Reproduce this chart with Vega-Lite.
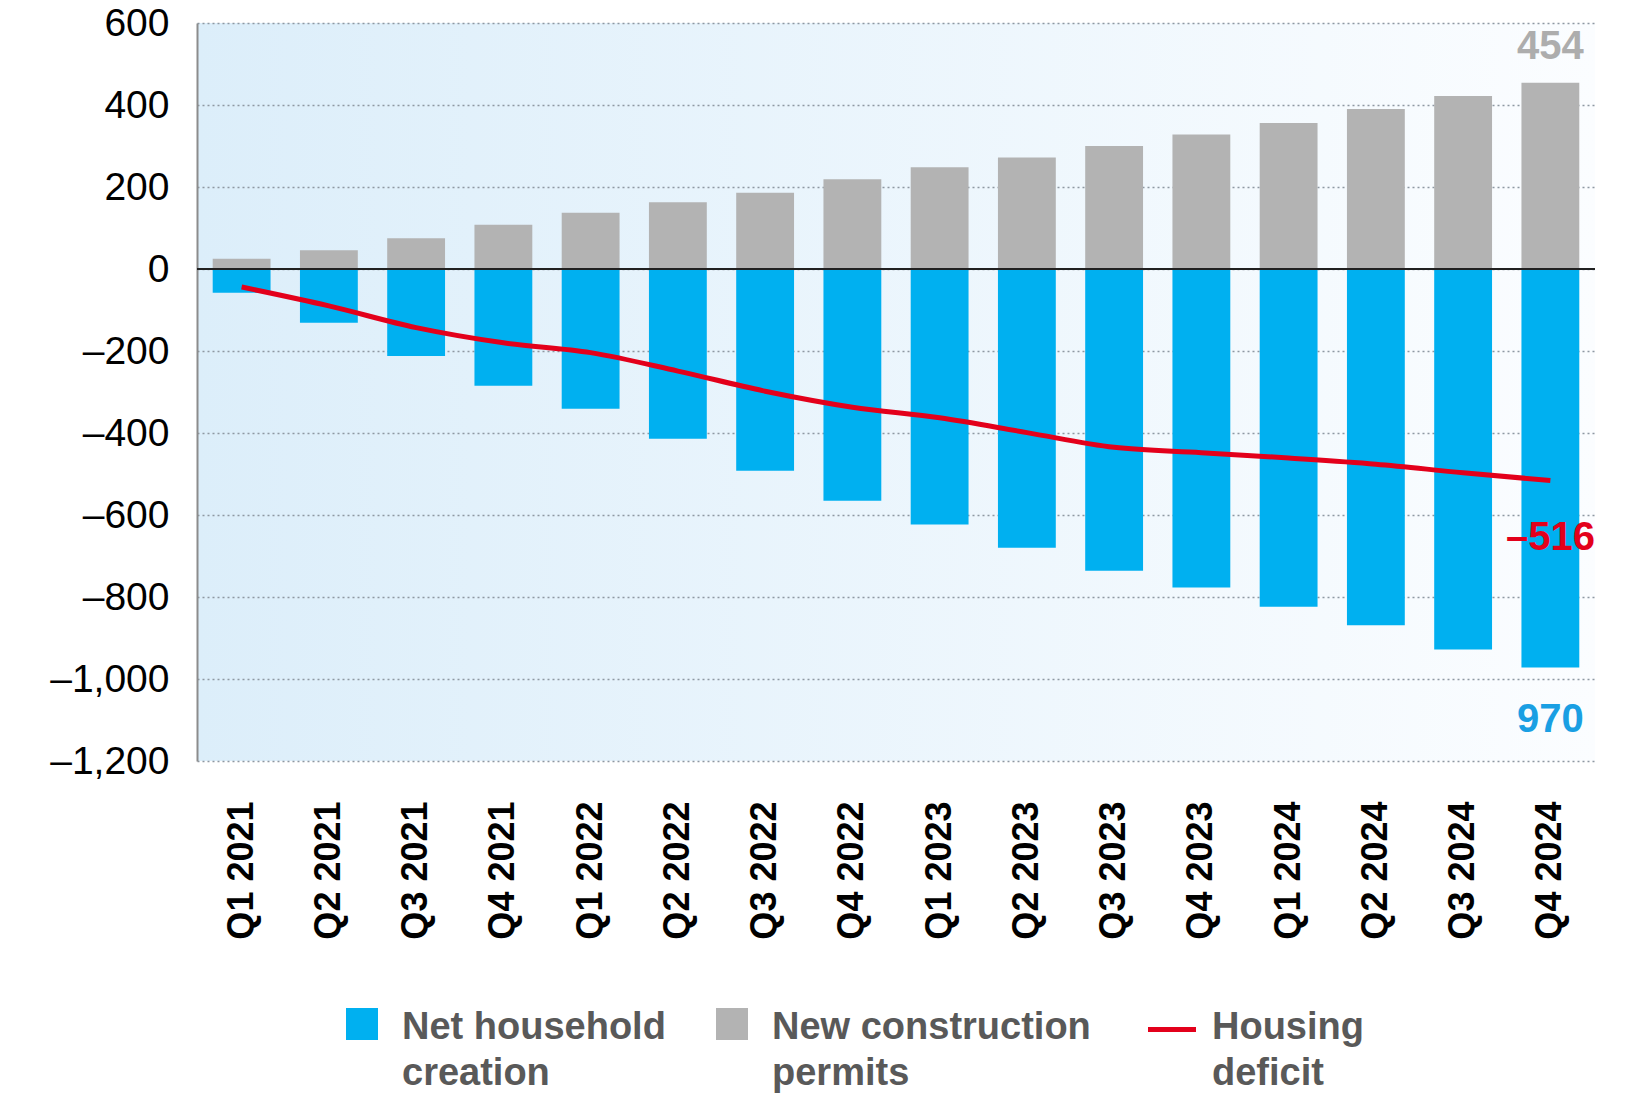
{
  "$schema": "https://vega.github.io/schema/vega-lite/v6.json",
  "width": 1398,
  "height": 738,
  "autosize": {"type": "none"},
  "padding": {"left": 197, "top": 23, "right": 55, "bottom": 339},
  "background": "white",
  "config": {
    "font": "Liberation Sans",
    "view": {
      "stroke": null,
      "fill": {"gradient": "linear", "x1": 0, "y1": 0, "x2": 1, "y2": 0,
        "stops": [{"offset": 0, "color": "#dceefa"}, {"offset": 1, "color": "#fbfdff"}]}
    }
  },
  "data": {
    "values": [
      {"q": "Q1 2021", "series": "Net household creation", "value": -58},
      {"q": "Q2 2021", "series": "Net household creation", "value": -131},
      {"q": "Q3 2021", "series": "Net household creation", "value": -212},
      {"q": "Q4 2021", "series": "Net household creation", "value": -285},
      {"q": "Q1 2022", "series": "Net household creation", "value": -341},
      {"q": "Q2 2022", "series": "Net household creation", "value": -414},
      {"q": "Q3 2022", "series": "Net household creation", "value": -492},
      {"q": "Q4 2022", "series": "Net household creation", "value": -565},
      {"q": "Q1 2023", "series": "Net household creation", "value": -623},
      {"q": "Q2 2023", "series": "Net household creation", "value": -680},
      {"q": "Q3 2023", "series": "Net household creation", "value": -736},
      {"q": "Q4 2023", "series": "Net household creation", "value": -777},
      {"q": "Q1 2024", "series": "Net household creation", "value": -824},
      {"q": "Q2 2024", "series": "Net household creation", "value": -869},
      {"q": "Q3 2024", "series": "Net household creation", "value": -928},
      {"q": "Q4 2024", "series": "Net household creation", "value": -972, "label": "970"},
      {"q": "Q1 2021", "series": "New construction permits", "value": 25},
      {"q": "Q2 2021", "series": "New construction permits", "value": 46},
      {"q": "Q3 2021", "series": "New construction permits", "value": 75},
      {"q": "Q4 2021", "series": "New construction permits", "value": 108},
      {"q": "Q1 2022", "series": "New construction permits", "value": 137},
      {"q": "Q2 2022", "series": "New construction permits", "value": 163},
      {"q": "Q3 2022", "series": "New construction permits", "value": 186},
      {"q": "Q4 2022", "series": "New construction permits", "value": 219},
      {"q": "Q1 2023", "series": "New construction permits", "value": 248},
      {"q": "Q2 2023", "series": "New construction permits", "value": 272},
      {"q": "Q3 2023", "series": "New construction permits", "value": 300},
      {"q": "Q4 2023", "series": "New construction permits", "value": 328},
      {"q": "Q1 2024", "series": "New construction permits", "value": 356},
      {"q": "Q2 2024", "series": "New construction permits", "value": 390},
      {"q": "Q3 2024", "series": "New construction permits", "value": 422},
      {"q": "Q4 2024", "series": "New construction permits", "value": 454, "label": "454"},
      {"q": "Q1 2021", "series": "Housing deficit", "value": -44},
      {"q": "Q2 2021", "series": "Housing deficit", "value": -90},
      {"q": "Q3 2021", "series": "Housing deficit", "value": -143},
      {"q": "Q4 2021", "series": "Housing deficit", "value": -180},
      {"q": "Q1 2022", "series": "Housing deficit", "value": -204},
      {"q": "Q2 2022", "series": "Housing deficit", "value": -249},
      {"q": "Q3 2022", "series": "Housing deficit", "value": -298},
      {"q": "Q4 2022", "series": "Housing deficit", "value": -337},
      {"q": "Q1 2023", "series": "Housing deficit", "value": -363},
      {"q": "Q2 2023", "series": "Housing deficit", "value": -399},
      {"q": "Q3 2023", "series": "Housing deficit", "value": -435},
      {"q": "Q4 2023", "series": "Housing deficit", "value": -448},
      {"q": "Q1 2024", "series": "Housing deficit", "value": -461},
      {"q": "Q2 2024", "series": "Housing deficit", "value": -476},
      {"q": "Q3 2024", "series": "Housing deficit", "value": -497},
      {"q": "Q4 2024", "series": "Housing deficit", "value": -516, "label": "–516"}
    ]
  },
  "encoding": {
    "x": {
      "field": "q", "type": "ordinal", "sort": null,
      "scale": {"paddingInner": 0.337, "paddingOuter": 0.18},
      "axis": {
        "title": null, "domain": false, "ticks": false, "grid": false,
        "labelAngle": -90, "labelFontSize": 36, "labelFontWeight": "bold",
        "labelColor": "#000000", "labelPadding": 40, "labelFont": "Liberation Sans"
      }
    },
    "y": {
      "field": "value", "type": "quantitative",
      "scale": {"domain": [-1200, 600], "nice": false, "zero": false},
      "axis": {
        "title": null,
        "values": [-1200, -1000, -800, -600, -400, -200, 0, 200, 400, 600],
        "labelExpr": "replace(replace(format(datum.value, ','), '-', '–'), '−', '–')",
        "labelFontSize": 39, "labelColor": "#000000", "labelPadding": 28, "labelFont": "Liberation Sans",
        "ticks": false,
        "domain": true, "domainColor": "#8c8c8c", "domainWidth": 2,
        "grid": true, "gridColor": "#8e98a2", "gridDash": [2, 3], "gridWidth": 1.5
      }
    }
  },
  "layer": [
    {
      "transform": [{"filter": "datum.series !== 'Housing deficit'"}],
      "mark": {"type": "bar"},
      "encoding": {
        "y": {"field": "value", "type": "quantitative", "stack": null},
        "color": {
          "field": "series", "type": "nominal",
          "scale": {
            "domain": ["Net household creation", "New construction permits", "Housing deficit"],
            "range": ["#00b0f0", "#b3b3b3", "#e3001b"]
          },
          "legend": {
            "title": null,
            "orient": "none",
            "legendX": 146,
            "legendY": 982,
            "direction": "horizontal",
            "columns": 3,
            "padding": 0,
            "symbolSize": 1024,
            "symbolType": "square",
            "symbolOffset": 0,
            "labelFont": "Liberation Sans",
            "labelFontSize": 38,
            "labelFontWeight": "bold",
            "labelColor": "#595959",
            "labelOffset": 21,
            "labelLimit": 600,
            "labelBaseline": "top",
            "columnPadding": 47,
            "labelExpr": "datum.label === 'Net household creation' ? ['Net household', 'creation'] : datum.label === 'New construction permits' ? ['New construction', 'permits'] : ['Housing', 'deficit']",
            "encode": {
              "symbols": {
                "update": {
                  "shape": {"signal": "datum.value === 'Housing deficit' ? 'M-1.5,0.35H1.5' : 'square'"},
                  "fill": {"signal": "datum.value === 'Housing deficit' ? 'transparent' : scale('color', datum.value)"},
                  "stroke": {"signal": "scale('color', datum.value)"},
                  "strokeWidth": {"signal": "datum.value === 'Housing deficit' ? 5 : 0"},
                  "opacity": {"value": 1}
                }
              },
              "labels": {
                "update": {
                  "dy": {"value": -15},
                  "lineHeight": {"value": 46}
                }
              }
            }
          }
        }
      }
    },
    {
      "mark": {"type": "rule", "color": "#222222", "strokeWidth": 1.5},
      "encoding": {"y": {"datum": 0}, "x": null}
    },
    {
      "transform": [{"filter": "datum.series === 'Housing deficit'"}],
      "mark": {"type": "line", "strokeWidth": 5, "interpolate": "monotone"},
      "encoding": {
        "color": {
          "field": "series", "type": "nominal",
          "scale": {
            "domain": ["Net household creation", "New construction permits", "Housing deficit"],
            "range": ["#00b0f0", "#b3b3b3", "#e3001b"]
          }
        }
      }
    },
    {
      "transform": [{"filter": "datum.series === 'New construction permits' && datum.q === 'Q4 2024'"}],
      "mark": {"type": "text", "font": "Liberation Sans", "fontSize": 40, "fontWeight": "bold", "color": "#adadad", "dy": -36, "baseline": "middle"},
      "encoding": {"text": {"field": "label"}}
    },
    {
      "transform": [{"filter": "datum.series === 'Net household creation' && datum.q === 'Q4 2024'"}],
      "mark": {"type": "text", "font": "Liberation Sans", "fontSize": 40, "fontWeight": "bold", "color": "#1a9fe3", "dy": 52, "baseline": "middle"},
      "encoding": {"text": {"field": "label"}}
    },
    {
      "transform": [{"filter": "datum.series === 'Housing deficit' && datum.q === 'Q4 2024'"}],
      "mark": {"type": "text", "font": "Liberation Sans", "fontSize": 40, "fontWeight": "bold", "color": "#e3001b", "dy": 57, "baseline": "middle"},
      "encoding": {"text": {"field": "label"}}
    }
  ]
}
